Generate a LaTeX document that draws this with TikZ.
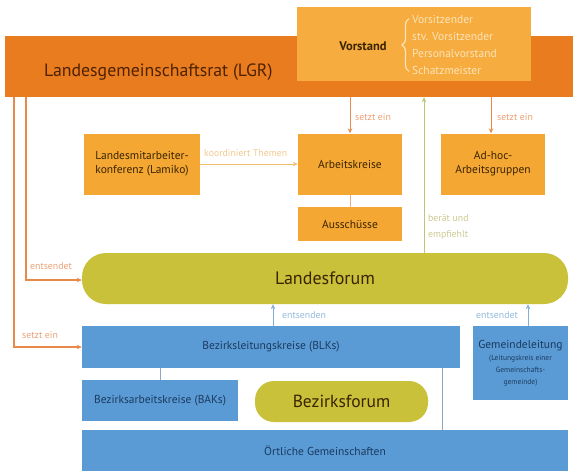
\documentclass[tikz,border=0pt]{standalone}
\usepackage{fontspec}
\setmainfont{PT Sans}
\usetikzlibrary{arrows.meta,decorations.pathreplacing}
\definecolor{lgrC}{HTML}{E97C1E}
\definecolor{orC}{HTML}{F4A733}
\definecolor{vorC}{HTML}{F6AC3E}
\definecolor{oliveC}{HTML}{C9C13A}
\definecolor{blueC}{HTML}{5B9BD5}
\definecolor{brownT}{HTML}{3A2400}
\definecolor{lgrT}{HTML}{4E2200}
\definecolor{creamT}{HTML}{FCE4BC}
\definecolor{navyT}{HTML}{1B3A5E}
\definecolor{oLine}{HTML}{E88A4A}
\definecolor{oLbl}{HTML}{EBA074}
\definecolor{kLine}{HTML}{F4BE6E}
\definecolor{kLbl}{HTML}{F2C98C}
\definecolor{gLine}{HTML}{BFC673}
\definecolor{gLbl}{HTML}{CBC98F}
\definecolor{bLine}{HTML}{86AFD8}
\definecolor{bLbl}{HTML}{93B8DC}
\definecolor{gray1}{HTML}{8FA6BF}
\begin{document}
\begin{tikzpicture}[x=1pt,y=-1pt,
  box/.style={rectangle, inner sep=0pt, align=center},
  obox/.style={box, fill=orC, text=brownT, font=\fontsize{11.5}{14}\selectfont},
  bbox/.style={box, fill=blueC, text=navyT, font=\fontsize{11.5}{13}\selectfont},
  pill/.style={box, fill=oliveC, text=brownT},
  lbl/.style={inner sep=0pt, anchor=west, font=\fontsize{9.8}{11}\selectfont},
  arr/.style={-{Stealth[length=5pt,width=4.5pt]}, line width=1pt}]
\useasboundingbox (0,0) rectangle (573,475);

% top bar
\node[box, fill=lgrC, minimum width=568pt, minimum height=61pt] (lgr) at (289,66.5) {};
\node[box, fill=vorC, minimum width=234pt, minimum height=74pt] (vor) at (414,44) {};
\node[inner sep=0pt, anchor=west, text=lgrT, font=\fontsize{17.8}{20}\selectfont] (lgrt) at (44,72) {Landesgemeinschaftsrat (LGR)};
\node[inner sep=0pt, text=brownT, font=\fontsize{12.5}{14}\selectfont\bfseries] (vort) at (363,46) {Vorstand};
\node[inner sep=0pt, anchor=west, align=left, text=creamT, font=\fontsize{11.5}{16.7}\selectfont] (vlist) at (412,45) {Vorsitzender\\stv. Vorsitzender\\Personalvorstand\\Schatzmeister};
\coordinate (b1) at ([xshift=-3pt,yshift=-3pt]vlist.north west);
\coordinate (b2) at ([xshift=-3pt,yshift=3pt]vlist.south west);
\draw[creamT, line width=1.2pt, decorate, decoration={brace, amplitude=7pt, aspect=0.5}] (b2) -- (b1);

% orange boxes
\node[obox, minimum width=116pt, minimum height=61pt] (lam) at (142,164) {Landesmitarbeiter-\\konferenz (Lamiko)};
\node[obox, minimum width=104pt, minimum height=61pt] (ak) at (350,164) {Arbeitskreise};
\node[obox, minimum width=104pt, minimum height=34pt] (aus) at (350,224) {Ausschüsse};
\node[obox, minimum width=104pt, minimum height=61pt] (adh) at (493,164) {Ad-hoc-\\Arbeitsgruppen};

% Landesforum
\node[pill, minimum width=486pt, minimum height=51pt, rounded corners=24pt, font=\fontsize{18}{20}\selectfont] (lf) at (325,278.5) {Landesforum};

% blue boxes
\node[bbox, minimum width=378pt, minimum height=42pt] (blk) at (271,347) {Bezirksleitungskreise (BLKs)};
\node[bbox, minimum width=95pt, minimum height=74pt, font=\fontsize{7.5}{12}\selectfont] (gl) at (520.5,363) {{\fontsize{11.5}{13}\selectfont Gemeindeleitung}\\(Leitungskreis einer\\Gemeinschafts-\\gemeinde)};
\node[bbox, minimum width=156pt, minimum height=41pt] (bak) at (160,400.5) {Bezirksarbeitskreise (BAKs)};
\node[pill, minimum width=173pt, minimum height=41pt, rounded corners=19pt, font=\fontsize{17.5}{19}\selectfont] (bf) at (341.5,401.5) {Bezirksforum};
\node[bbox, minimum width=486pt, minimum height=41pt] (og) at (325,450.5) {Örtliche Gemeinschaften};

% connectors
\draw[arr, oLine, line width=1.4pt] ([xshift=9pt]lgr.south west) |- (blk.west);
\draw[arr, oLine, line width=1.4pt] ([xshift=21pt]lgr.south west) |- ([yshift=-1.5pt]lf.west);
\draw[arr, oLine] (lgr.south -| ak.north) -- (ak.north);
\draw[arr, oLine] ([xshift=-2pt]lgr.south -| adh.north) -- ([xshift=-2pt]adh.north);
\coordinate (g1) at ([xshift=99pt]lf.north);
\draw[arr, gLine] (g1) -- (g1 |- lgr.south);
\draw[arr, kLine] (lam.east) -- (ak.west);
\draw[oLine!70, line width=0.7pt] (ak.south) -- (aus.north);
\coordinate (e1) at ([xshift=2pt]blk.north);
\draw[arr, bLine] (e1) -- (e1 |- lf.south);
\coordinate (e2) at ([xshift=7.5pt]gl.north);
\draw[arr, bLine] (e2) -- (e2 |- lf.south);
\draw[gray1, line width=0.7pt] (bak.north) -- (bak.north |- blk.south);
\coordinate (o1) at ([xshift=-18pt]blk.south east);
\draw[gray1, line width=0.7pt] (o1) -- (o1 |- og.north);

% labels
\node[lbl, text=oLbl] (l1) at (355,117) {setzt ein};
\node[lbl, text=oLbl] (l2) at (497,117) {setzt ein};
\node[lbl, text=kLbl] (l3) at (204,153) {koordiniert Themen};
\node[lbl, text=gLbl, align=left, font=\fontsize{9.8}{15.5}\selectfont] (l4) at (428,227) {berät und\\empfiehlt};
\node[lbl, text=oLbl] (l5) at (30,266) {entsendet};
\node[lbl, text=oLbl] (l6) at (22,335) {setzt ein};
\node[lbl, text=bLbl] (l7) at (282,315) {entsenden};
\node[lbl, text=bLbl] (l8) at (476,315) {entsendet};
\end{tikzpicture}
\end{document}
